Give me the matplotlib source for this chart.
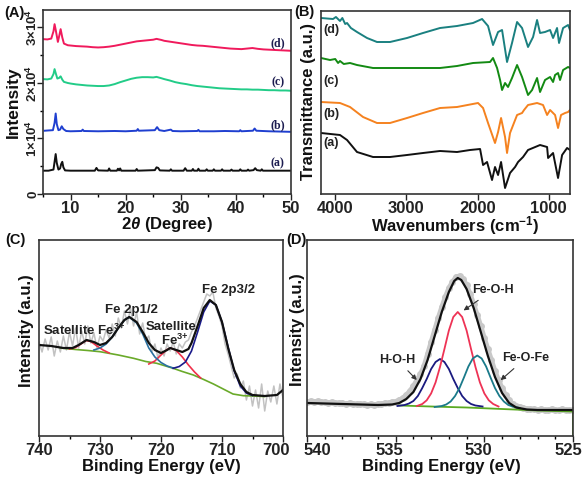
import numpy as np
import matplotlib
matplotlib.use("Agg")
import matplotlib.pyplot as plt
from matplotlib.transforms import blended_transform_factory, ScaledTranslation

plt.rcParams['font.family'] = ['Liberation Sans', 'DejaVu Sans']
plt.rcParams['font.weight'] = 'bold'
plt.rcParams['mathtext.fontset'] = 'custom'
plt.rcParams['mathtext.rm'] = 'Liberation Sans:bold'
plt.rcParams['mathtext.it'] = 'Liberation Sans:italic:bold'
plt.rcParams['mathtext.bf'] = 'Liberation Sans:bold'

W, H = 587, 479

# ---------------- (A) XRD ----------------
xrd_a = [(5.0, 4200), (6.0, 4200), (6.9, 4400), (7.1, 5800), (7.3, 7200), (7.5, 5600), (7.8, 4400),
         (8.1, 4600), (8.3, 5400), (8.5, 5800), (8.7, 4800), (9.0, 4250), (10, 4200), (12, 4200),
         (14.4, 4200), (14.7, 4700), (15.0, 4250), (16.8, 4200), (17.0, 4600), (17.2, 4200),
         (18.4, 4200), (18.6, 4550), (18.8, 4250), (19.0, 4600), (19.2, 4200), (21.8, 4200),
         (22.0, 4500), (22.2, 4200), (25.3, 4300), (25.6, 4800), (25.9, 4700), (26.2, 4250),
         (28.0, 4200), (28.2, 4450), (28.4, 4200), (30.5, 4200), (30.8, 4650), (31.1, 4200),
         (32.0, 4200), (32.2, 4500), (32.4, 4200), (33.0, 4200), (33.2, 4550), (33.4, 4200),
         (34.5, 4200), (34.7, 4450), (34.9, 4200), (35.8, 4200), (36.0, 4450), (36.2, 4200),
         (37.3, 4200), (37.5, 4450), (37.7, 4200), (39.0, 4200), (39.2, 4400), (39.4, 4200),
         (40.6, 4200), (40.8, 4450), (41.0, 4200), (42.0, 4200), (42.2, 4400), (42.4, 4200),
         (43.2, 4300), (43.5, 4650), (43.8, 4300), (44.5, 4200), (44.7, 4450), (44.9, 4200),
         (46, 4200), (48, 4200), (50, 4200)]
xrd_b = [(5.3, 11400), (6.0, 11450), (6.8, 11500), (7.1, 12800), (7.3, 14500), (7.5, 12600),
         (7.8, 11500), (8.1, 11600), (8.4, 12200), (8.7, 11700), (9.2, 11350), (10, 11300),
         (12, 11350), (12.2, 11600), (12.4, 11350), (15, 11300), (18, 11350), (20, 11300),
         (22, 11400), (22.2, 11700), (22.4, 11400), (25.3, 11500), (25.7, 12050), (26.1, 11500),
         (27, 11350), (28.2, 11600), (28.5, 11350), (30, 11300), (33, 11350), (33.2, 11550),
         (33.4, 11300), (36, 11300), (38, 11350), (40.6, 11300), (40.8, 11500), (41, 11300),
         (43.1, 11400), (43.4, 11800), (43.7, 11400), (46, 11300), (48, 11250), (50, 11200)]
xrd_c = [(5.0, 20700), (5.8, 20650), (6.5, 20800), (6.9, 21600), (7.1, 22500), (7.3, 21800),
         (7.6, 20800), (7.9, 20900), (8.2, 21200), (8.5, 20600), (8.8, 20200), (9.5, 20000),
         (10, 19900), (11, 19750), (12, 19650), (13, 19550), (14, 19500), (15, 19450), (16, 19450),
         (17, 19550), (18, 19800), (19, 20150), (20, 20450), (21, 20750), (22, 20950), (23, 21050),
         (24, 21050), (25, 21000), (25.6, 21100), (26.5, 20850), (27, 20700), (28, 20450),
         (29, 20150), (30, 19950), (31, 19800), (32, 19600), (33, 19450), (34, 19350), (35, 19250),
         (36, 19150), (37, 19050), (38, 19000), (39, 18950), (40, 18900), (41, 18850), (42, 18850),
         (43, 18800), (44, 18800), (45, 18750), (46, 18700), (47, 18700), (48, 18650), (49, 18650),
         (50, 18600)]
xrd_d = [(5.0, 27900), (5.8, 27850), (6.5, 28000), (6.9, 29300), (7.1, 30600), (7.3, 29600),
         (7.7, 27400), (7.95, 28500), (8.2, 29700), (8.5, 28200), (8.8, 27100), (9.5, 26800),
         (10, 26750), (11, 26650), (12, 26600), (13, 26550), (14, 26450), (15, 26400), (16, 26450),
         (17, 26550), (18, 26700), (19, 26900), (20, 27100), (21, 27300), (22, 27500), (23, 27600),
         (24, 27700), (25, 27800), (25.6, 27950), (26.5, 27750), (27, 27600), (28, 27450),
         (29, 27300), (30, 27150), (31, 27000), (32, 26850), (33, 26750), (34, 26700), (35, 26600),
         (36, 26500), (37, 26400), (38, 26300), (39, 26200), (40, 26150), (41, 26100), (42, 26200),
         (43, 26300), (44, 26150), (45, 26050), (46, 26000), (47, 25950), (48, 25900), (49, 25850),
         (50, 25800)]
xrd_labels = ['(a)', '(b)', '(c)', '(d)']
xrd_label_pos = [(47.6, 5500), (47.6, 12430), (47.6, 20050), (47.6, 27150)]
xrd_yticks = [0, 10000, 20000, 30000]
xrd_yticklabels = ['0', '1×10$^{4}$', '2×10$^{4}$', '3×10$^{4}$']

# ---------------- (B) FTIR ----------------
ir_a = [(4200, 61), (3933, 59), (3834, 54), (3694, 42), (3469, 37), (3230, 37), (2991, 39), (2766, 41),
        (2527, 43), (2288, 42), (2105, 44), (1964, 45), (1922, 29), (1866, 32), (1796, 14), (1754, 27),
        (1711, 19), (1669, 32), (1613, 6), (1543, 21), (1472, 27), (1430, 32), (1360, 37), (1290, 44),
        (1121, 49), (1022, 47), (1008, 36), (938, 41), (868, 16), (811, 39), (741, 46), (700, 44)]
ir_b = [(4200, 92), (3933, 91), (3792, 87), (3609, 77), (3413, 71), (3230, 71), (2991, 76), (2766, 81),
        (2527, 86), (2288, 87), (1993, 91), (1922, 86), (1852, 71), (1754, 51), (1711, 62), (1669, 76),
        (1613, 57), (1585, 41), (1543, 61), (1444, 79), (1374, 81), (1346, 84), (1290, 89), (1163, 91),
        (1079, 89), (1022, 79), (980, 84), (910, 79), (868, 66), (826, 79), (769, 81), (727, 82), (700, 84)]
ir_c = [(4200, 136), (4073, 134), (4000, 135), (3960, 131), (3933, 133), (3880, 130), (3792, 131),
        (3694, 129), (3469, 126), (3230, 126), (2991, 126), (2766, 126), (2527, 126), (2288, 128),
        (2063, 131), (1824, 132), (1782, 136), (1725, 126), (1683, 114), (1655, 104), (1613, 111),
        (1571, 107), (1515, 116), (1444, 129), (1374, 117), (1290, 99), (1233, 104), (1163, 116),
        (1121, 102), (1051, 114), (980, 117), (938, 112), (910, 119), (868, 121), (840, 114),
        (797, 124), (727, 127), (700, 126)]
ir_d = [(4200, 176), (4031, 175), (3990, 177), (3933, 173), (3900, 176), (3860, 170), (3834, 171),
        (3780, 166), (3694, 162), (3553, 156), (3413, 152), (3230, 152), (2991, 156), (2766, 161),
        (2527, 166), (2288, 168), (2063, 171), (1936, 175), (1852, 168), (1782, 149), (1711, 162),
        (1655, 164), (1585, 132), (1515, 151), (1444, 172), (1374, 166), (1290, 147), (1219, 157),
        (1163, 174), (1121, 161), (1051, 162), (980, 164), (938, 156), (882, 166), (854, 151),
        (797, 166), (727, 169), (700, 164)]
ir_label_y = [51, 80, 113, 164]

# ---------------- (C) Fe 2p XPS ----------------
fe_raw_e = np.arange(740.0, 699.9, -0.5)
fe_raw = [94, 84, 97, 86, 99, 80, 95, 84, 100, 86, 104, 90, 108, 88, 105, 92, 110, 93, 103, 88,
          100, 95, 106, 98, 112, 100, 118, 108, 125, 112, 128, 110, 124, 102, 113, 96, 100, 84, 92, 78,
          88, 80, 92, 85, 94, 82, 92, 88, 94, 96, 104, 110, 118, 126, 134, 142, 140, 144, 128, 120,
          110, 92, 82, 70, 58, 62, 48, 55, 36, 50, 30, 46, 28, 52, 25, 45, 34, 50, 32, 52, 38]
fe_env = [(740, 91), (738, 90), (736, 88), (734.5, 88), (733.5, 91), (732.2, 96), (731, 94), (730, 91),
          (729, 93), (728, 99), (727, 108), (726, 116), (725.2, 119), (724, 114), (723, 104), (722, 93),
          (721, 86), (720, 83), (719, 86), (718.5, 88), (717.5, 86), (716.5, 84), (715.5, 87), (715, 93),
          (714, 110), (713, 128), (712, 136), (711, 131), (710, 114), (709, 88), (708, 66), (707, 52),
          (706, 44), (705, 41), (703, 40), (701, 41), (700, 46)]
fe_bg = [(736.5, 88), (734, 86.5), (732, 85.5), (730, 84.3), (727, 81), (724.5, 77.7), (722.5, 74.5),
         (720.7, 72.7), (718, 67.7), (716.5, 64.5), (714.7, 61), (713, 56.5), (711.4, 52), (709.8, 47),
         (708.2, 42), (706.5, 40.3), (704.9, 40), (703, 39.5)]
fe_sat1 = [(735, 87), (734, 88.5), (733, 92.5), (732.3, 95.5), (731.5, 94.5), (730.5, 90), (729.5, 86),
           (728.5, 83)]
fe_p12 = [(731, 86), (730, 88), (729, 92), (728, 99), (727, 108), (726, 116), (725.2, 119), (724, 113),
          (723, 102), (722, 88), (721, 79), (720, 73.5), (719, 70), (718, 68)]
fe_sat2 = [(722, 72), (721, 75), (720, 81), (719, 86.5), (718.4, 88), (717.5, 85.5), (716.5, 79),
           (715.5, 71), (714.5, 64), (713.5, 58)]
fe_p32 = [(718, 67.7), (717, 69.5), (716, 74), (715, 85), (714, 104), (713, 124), (712, 135), (711, 131),
          (710, 114), (709, 89), (708, 65), (707, 50), (706, 43), (705, 40.5)]

# ---------------- (D) O 1s XPS ----------------
o_raw_e = np.arange(540.0, 524.9, -0.2)
o_raw = [34, 35, 34, 35, 34, 34, 33, 34, 33, 33, 33, 32, 33, 32, 32, 32, 32, 31, 32, 31,
         32, 32, 33, 33, 34, 34.5, 36, 38, 41, 45, 50, 56, 62, 70, 82, 94, 106, 118, 129, 139,
         148, 154, 159, 160, 157, 151, 142, 132, 121, 110, 98, 87, 76, 65, 56, 48, 41, 36, 32, 30,
         29, 28, 27, 27, 27, 26, 27, 26, 26, 27, 26, 26, 27, 26, 26, 26]
o_env = [(540, 33), (539, 32.5), (538, 32), (537, 31.5), (536, 31), (535.2, 31.5), (534.8, 33),
         (534.4, 37), (534.0, 44), (533.6, 57), (533.2, 76), (532.8, 100), (532.4, 124), (532.0, 144),
         (531.7, 155), (531.5, 158), (531.3, 156), (531.0, 147), (530.6, 128), (530.2, 104),
         (529.8, 80), (529.4, 59), (529.0, 43), (528.6, 33), (528.2, 28.5), (527.6, 26.5), (527, 26),
         (526, 26), (525, 26)]
o_bg = [(534.8, 30.5), (533, 29.5), (531, 28.5), (529, 27), (527, 25.5), (525, 24.5), (525, 0)]
o_hoh = [(534.9, 30), (534.5, 31), (534.25, 32.5), (534.0, 35), (533.75, 40), (533.5, 48), (533.25, 57),
         (533.0, 67), (532.75, 74), (532.5, 77), (532.25, 74), (532.0, 67), (531.75, 57), (531.5, 48),
         (531.25, 40), (531.0, 35), (530.75, 32), (530.5, 30.5), (530.1, 29.5)]
o_feoh = [(533.8, 30), (533.5, 32), (533.25, 35.7), (533.0, 42.6), (532.75, 53.6), (532.5, 69),
          (532.25, 87), (532.0, 105.5), (531.75, 119), (531.5, 124), (531.25, 119), (531.0, 105.5),
          (530.75, 87), (530.5, 69), (530.25, 53.6), (530.0, 42.6), (529.75, 35.7), (529.5, 32),
          (529.2, 29.5)]
o_feofe = [(532.8, 29), (532.4, 30), (532.15, 31.5), (531.9, 34.5), (531.65, 40), (531.4, 48),
           (531.15, 58.5), (530.9, 69.5), (530.65, 77.5), (530.4, 80.5), (530.15, 77.5), (529.9, 69.5),
           (529.65, 58.5), (529.4, 48), (529.15, 40), (528.9, 34.5), (528.65, 31), (528.4, 29.5),
           (528.0, 28)]


def rect(x0, y0, x1, y1):
    return [x0 / W, 1 - y1 / H, (x1 - x0) / W, (y1 - y0) / H]


def xy(pairs):
    a = np.array(pairs, dtype=float)
    return a[:, 0], a[:, 1]


def style(ax, size=12):
    for s in ax.spines.values():
        s.set_linewidth(1.2)
        s.set_color('#333333')
    ax.tick_params(direction='out', length=4, width=1, labelsize=size, pad=1, colors='#222222')
    ax.tick_params(which='minor', direction='out', length=2.5, width=1)


def nudge_xlabels(ax, shifts):
    # shift tick labels sideways by a few pixels (as in the reference layout)
    for tick, dx in zip(ax.xaxis.get_major_ticks(), shifts):
        if dx:
            lab = tick.label1
            lab.set_transform(lab.get_transform() + ScaledTranslation(dx / 100, 0, fig.dpi_scale_trans))


fig = plt.figure(figsize=(W / 100, H / 100), dpi=100)
txt = dict(fontweight='bold', color='#222222')

# (A)
ax = fig.add_axes(rect(43, 10, 291, 194))
for pairs, col in [(xrd_a, '#111111'), (xrd_b, '#1f3fd0'), (xrd_c, '#22cc88'), (xrd_d, '#f01a5c')]:
    x, y = xy(pairs)
    ax.plot(x, y, color=col, lw=1.4, solid_joinstyle='round')
for lab, (lx, ly) in zip(xrd_labels, xrd_label_pos):
    ax.text(lx, ly, lab, ha='center', va='center', fontsize=8.5, fontweight='bold',
            family=['Liberation Serif'], color='#1c1c50')
ax.set_xlim(5, 50)
ax.set_ylim(0, 33150)
ax.set_xticks([10, 20, 30, 40, 50])
ax.set_xticks(np.arange(5, 50, 10), minor=True)
ax.set_yticks(xrd_yticks, xrd_yticklabels)
ax.set_yticks(np.arange(5000, 33000, 10000), minor=True)
style(ax)
ax.tick_params(axis='y', labelsize=9.5, pad=-1.5)
for t in ax.get_yticklabels():
    t.set_rotation(90)
    t.set_va('center')

# (B)
ax = fig.add_axes(rect(321, 11, 570, 194))
tr = blended_transform_factory(ax.transAxes, ax.transData)
for pairs, col, lab, ly in [(ir_a, '#111111', '(a)', ir_label_y[0]), (ir_b, '#f5821f', '(b)', ir_label_y[1]),
                            (ir_c, '#138a13', '(c)', ir_label_y[2]), (ir_d, '#1a8080', '(d)', ir_label_y[3])]:
    x, y = xy(pairs)
    ax.plot(x, y, color=col, lw=1.4, solid_joinstyle='round')
    ax.text(0.04, ly, lab, transform=tr, ha='center', va='center', fontsize=9, **txt)
ax.set_xlim(4200, 700)
ax.set_ylim(0, 183)
ax.set_xticks([4000, 3000, 2000, 1000])
ax.set_yticks([])
style(ax)

# (C)
ax = fig.add_axes(rect(39, 240, 283, 436))
ax.plot(fe_raw_e, fe_raw, color='#c2c2c2', lw=1.1)
for pairs, col in [(fe_bg, '#6aaa2a'), (fe_sat1, '#f0304a'), (fe_sat2, '#f0304a'),
                   (fe_p12, '#2a70a0'), (fe_p32, '#1a1a8a')]:
    x, y = xy(pairs)
    ax.plot(x, y, color=col, lw=1.2)
x, y = xy(fe_env)
ax.plot(x, y, color='#111111', lw=1.6)
ax.text(739.4, 106, 'Satellite Fe$^{3{+}}$', ha='left', va='center', fontsize=9.5, **txt)
ax.text(724.8, 126, 'Fe 2p1/2', ha='center', va='center', fontsize=9.5, **txt)
ax.text(718.4, 109, 'Satellite', ha='center', va='center', fontsize=9.5, **txt)
ax.text(717.7, 96, 'Fe$^{3{+}}$', ha='center', va='center', fontsize=9.5, **txt)
ax.text(709.0, 146, 'Fe 2p3/2', ha='center', va='center', fontsize=9.5, **txt)
ax.set_xlim(740, 700)
ax.set_ylim(0, 196)
ax.set_xticks([740, 730, 720, 710, 700])
ax.set_xticks([735, 725, 715, 705], minor=True)
ax.set_yticks([])
style(ax)
nudge_xlabels(ax, [0, 0, 0, 0, -7])

# (D)
ax = fig.add_axes(rect(307, 240, 573, 436))
ax.plot(o_raw_e, o_raw, '-o', color='#c8c8c8', lw=3.5, ms=5, mec='none')
for pairs, col in [(o_bg, '#5aaa22'), (o_hoh, '#1a1a80'), (o_feoh, '#ee3355'), (o_feofe, '#1a7a8a')]:
    x, y = xy(pairs)
    ax.plot(x, y, color=col, lw=1.3)
x, y = xy(o_env)
ax.plot(x, y, color='#111111', lw=1.6)
arrow = dict(arrowstyle='-|>', color='#333333', lw=0.8, mutation_scale=7)
ax.annotate('Fe-O-H', xy=(531.3, 124), xytext=(529.5, 146), ha='center', va='center',
            fontsize=9, arrowprops=arrow, **txt)
ax.annotate('H-O-H', xy=(533.7, 54), xytext=(534.9, 76), ha='center', va='center',
            fontsize=9, arrowprops=arrow, **txt)
ax.annotate('Fe-O-Fe', xy=(529.2, 54), xytext=(527.65, 78), ha='center', va='center',
            fontsize=9, arrowprops=arrow, **txt)
ax.set_xlim(540, 525)
ax.set_ylim(0, 196)
ax.set_xticks([540, 535, 530, 525])
ax.set_xticks(np.arange(539, 525, -1), minor=True)
ax.set_yticks([])
style(ax)
nudge_xlabels(ax, [10, -6, -6, -5])


def ftext(x, y, s, **kw):
    fig.text(x / W, 1 - y / H, s, ha='center', va='center', **kw)


lab = dict(fontsize=12, fontweight='bold', color='#111111')
ftext(167, 225, '2$\\theta$ (Degree)', **lab)
ftext(455, 226, 'Wavenumbers (cm$^{-1}$)', **lab)
ftext(161, 467, 'Binding Energy (eV)', **lab)
ftext(441, 467, 'Binding Energy (eV)', **lab)
ftext(13, 102, 'Intensity', rotation=90, fontsize=12.5, fontweight='bold', color='#111111')
ftext(309, 102, 'Transmittance (a.u.)', rotation=90, **lab)
ftext(27, 331, 'Intensity (a.u.)', rotation=90, **lab)
ftext(298, 330, 'Intensity (a.u.)', rotation=90, **lab)
for s, px, py in [('(A)', 14, 13), ('(B)', 304, 12), ('(C)', 15, 240), ('(D)', 296, 240)]:
    ftext(px, py, s, fontsize=10.5, fontweight='bold', color='#111111')

fig.savefig('out.png', dpi=100)
